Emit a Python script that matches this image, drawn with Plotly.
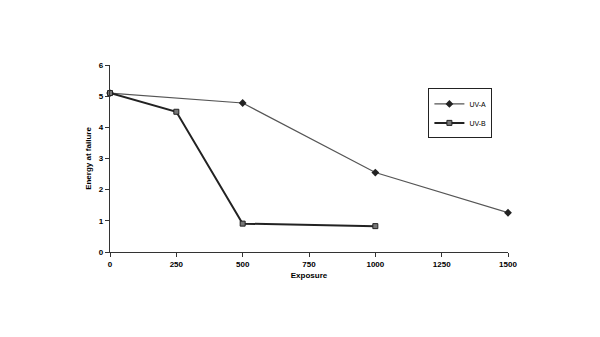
import plotly.graph_objects as go

uva_x = [0, 500, 1000, 1500]
uva_y = [5.1, 4.78, 2.55, 1.26]
uvb_x = [0, 250, 500, 1000]
uvb_y = [5.1, 4.5, 0.91, 0.83]
x_ticks = [0, 250, 500, 750, 1000, 1250, 1500]
y_ticks = [0, 1, 2, 3, 4, 5, 6]

FAM = "Liberation Sans, Arial"
tickf = dict(family=FAM, size=8, color="black", weight="bold")

fig = go.Figure()
fig.add_trace(go.Scatter(x=uva_x, y=uva_y, name="UV-A", mode="lines+markers",
                         cliponaxis=False,
                         line=dict(color="#555", width=1.2),
                         marker=dict(symbol="diamond", size=6, color="#222")))
fig.add_trace(go.Scatter(x=uvb_x, y=uvb_y, name="UV-B", mode="lines+markers",
                         cliponaxis=False,
                         line=dict(color="#222", width=2),
                         marker=dict(symbol="square", size=5, color="#777",
                                     line=dict(color="#222", width=1))))
fig.update_layout(
    width=600, height=337, margin=dict(l=110, r=92, t=65, b=85),
    paper_bgcolor="white", plot_bgcolor="white",
    font=dict(family=FAM, size=7, color="black"),
    legend=dict(x=0.80, y=0.875, xanchor="left", yanchor="top",
                bordercolor="#222", borderwidth=1, bgcolor="white",
                font=dict(family=FAM, size=7, color="black"),
                itemwidth=30, tracegroupgap=0),
)
fig.update_xaxes(range=[0, 1500], tickvals=x_ticks, showgrid=False, zeroline=False,
                 showline=True, linecolor="#333", linewidth=1.2, ticks="outside",
                 ticklen=4, tickcolor="#333", tickfont=tickf,
                 title=dict(text="<b>Exposure</b>", standoff=4,
                            font=dict(family=FAM, size=8, color="black")))
fig.update_yaxes(range=[0, 6], tickvals=y_ticks, showgrid=False, zeroline=False,
                 showline=True, linecolor="#333", linewidth=1.2, ticks="outside",
                 ticklen=4, tickcolor="#333", tickfont=tickf,
                 title=dict(text="<b>Energy at failure</b>", standoff=6,
                            font=dict(family=FAM, size=8, color="black")))
fig.write_html("out.html")
